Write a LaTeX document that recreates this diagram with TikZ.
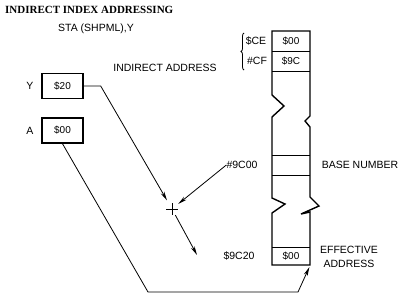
\documentclass[tikz,border=0pt]{standalone}
\usepackage{fontspec}
\setmainfont{Liberation Sans}
\newfontfamily\titlefont{Liberation Serif}
\usetikzlibrary{arrows.meta,decorations.pathreplacing}

\begin{document}
\begin{tikzpicture}[x=1pt, y=-1pt,
  reg/.style={draw, line width=1.4pt, minimum width=41pt, minimum height=25pt, inner sep=0pt, font=\fontsize{10}{12}\selectfont},
  cell/.style={minimum width=38pt, minimum height=20pt, inner sep=0pt, font=\fontsize{10}{12}\selectfont},
  lbl/.style={inner sep=0pt, font=\fontsize{10.5}{14}\selectfont, align=center},
  conn/.style={line width=0.8pt},
  arr/.style={conn, -{Stealth[length=9pt, width=4pt]}}]
  \useasboundingbox (0,0) rectangle (406,300);

  \node[anchor=west, inner sep=0pt, font=\titlefont\fontsize{11}{12}\selectfont\bfseries] (title) at (5,10) {INDIRECT INDEX ADDRESSING};
  \node[lbl] (instr) at (96,29) {STA (SHPML),Y};

  % registers
  \node[reg] (regY) at (62.5,86) {\$20};
  \node[lbl] (labY) at (30,86) {Y};
  \node[reg] (regA) at (62.5,130.5) {\$00};
  \node[lbl] (labA) at (30,131) {A};

  % memory column
  \draw[line width=1.4pt, line join=miter] (272,31) -- (272,95) -- (284,106) -- (272,117) -- (272,198) -- (285,204) -- (272,213)
    -- (272,265) -- (310,265) -- (310,212) -- (301,214) -- (319,206) -- (310,197) -- (310,127) -- (305,121) -- (310,116) -- (310,31) -- cycle;
  \draw[conn] (272,51) -- (310,51) (272,71) -- (310,71);
  \draw[conn] (272,155) -- (310,155) (272,175) -- (310,175);
  \draw[conn] (272,247) -- (310,247);
  \node[cell] (ce) at (291,41) {\$00};
  \node[cell] (cf) at (291,61) {\$9C};
  \node[cell] (base) at (291,165) {};
  \node[cell, minimum height=18pt] (eff) at (291,256) {\$00};

  \node[lbl] (labCE) at (256,41) {\$CE};
  \node[lbl] (labCF) at (257,61) {\#CF};
  \draw[conn, decorate, decoration={brace, amplitude=3pt}] (244,70) -- (244,33);
  \node[lbl] (indlbl) at (165,68) {INDIRECT ADDRESS};
  \node[lbl] (baselbl) at (360,165) {BASE NUMBER};
  \node[lbl] (n9c00) at (242,165) {\#9C00};
  \node[lbl] (n9c20) at (239,256) {\$9C20};
  \node[lbl] (efflbl) at (349,257) {EFFECTIVE\\ADDRESS};

  % address sum
  \coordinate (plus) at (172,209);
  \draw[conn] (plus) +(-6,0) -- +(6,0) (plus) +(0,-6) -- +(0,6);
  \coordinate (eaEnd) at (197,255);
  \coordinate (turnA) at (148,292);
  \coordinate (turnB) at (298,292);

  \draw[arr, shorten >=10pt] (regY.east) -- ++(17,0) -- (plus);
  \draw[arr, shorten >=8pt] (n9c00.west) -- (plus);
  \draw[arr, shorten <=7pt] (plus) -- (eaEnd);
  \draw[arr, shorten >=2pt] (regA.south) -- (turnA) -- (turnB) -- (eff.south east);
\end{tikzpicture}
\end{document}
